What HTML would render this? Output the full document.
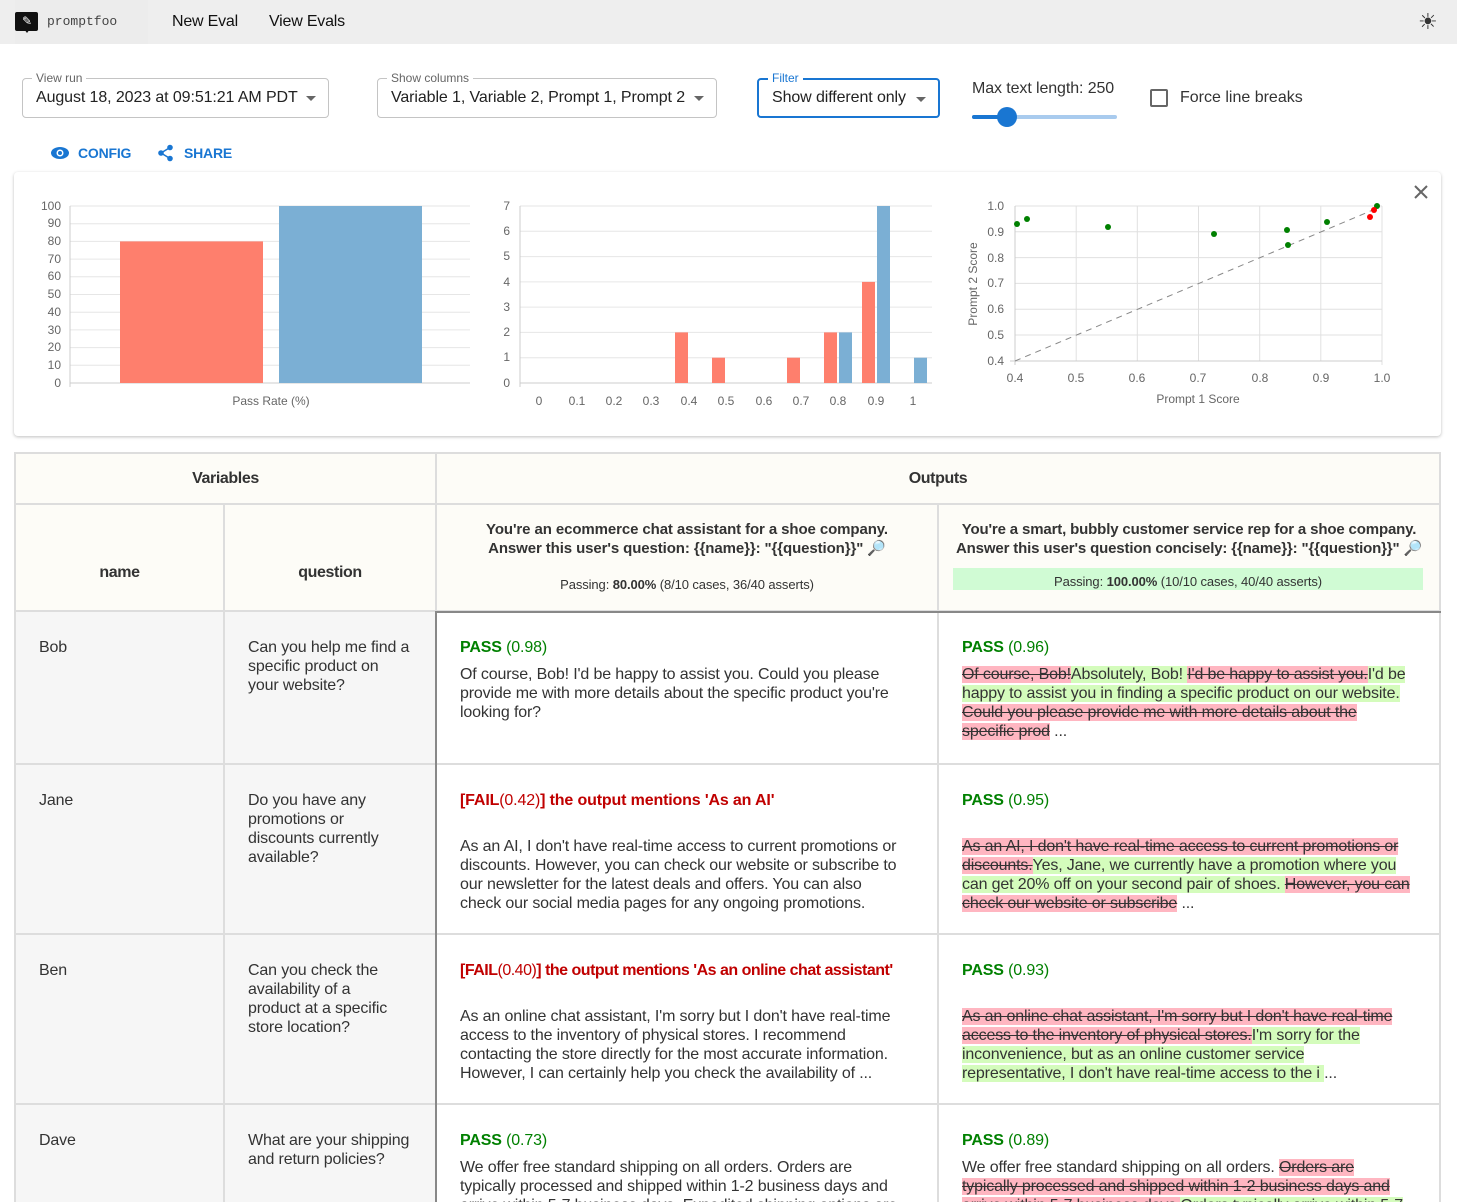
<!DOCTYPE html>
<html><head><meta charset="utf-8">
<style>
*{box-sizing:border-box;margin:0;padding:0}
html,body{width:1457px;height:1202px;overflow:hidden}
body{background:#fff;font-family:"Liberation Sans",Arial,sans-serif;color:#333;position:relative}
.a{position:absolute}
.top{left:0;top:0;width:1457px;height:44px;background:#eeeeee}
.fld{border:1px solid #c4c4c4;border-radius:4px;height:40px;font-size:16px;color:#222;padding:10px 0 0 13px;white-space:nowrap;letter-spacing:-0.1px}
.lbl{font-size:12px;color:#666;background:#fff;padding:0 4px;top:-8px;left:9px;position:absolute;line-height:14px;letter-spacing:0}
.arr{position:absolute;right:12px;top:17px;width:0;height:0;border-left:5px solid transparent;border-right:5px solid transparent;border-top:5px solid #666}
.c{position:absolute;border-right:2px solid #ddd;border-bottom:2px solid #ddd;overflow:hidden}
.h{background:#fdfcf7;font-weight:bold;font-size:16px;color:#333;text-align:center;white-space:nowrap;letter-spacing:-0.4px}
.v{background:#f6f6f6;font-size:16px;line-height:19px;padding:26px 23px;white-space:nowrap;letter-spacing:-0.15px}
.o{background:#fff;font-size:16px;line-height:19px;padding:26px 23px;white-space:nowrap;letter-spacing:-0.15px}
.pass{color:#008000}.fail{color:#c00000}
del{background:#ffb6c1;text-decoration:line-through}
ins{background:#d4fcbc;text-decoration:none}
</style></head><body>
<div class="a top"></div>
<div class="a" style="left:15px;top:0;width:133px;height:44px;background:#ececec"></div>
<div class="a" style="left:15px;top:12px;width:23px;height:19px;background:#111;border-radius:2px"></div>
<div class="a" style="left:24px;top:29px;width:0;height:0;border-left:3px solid transparent;border-right:3px solid transparent;border-top:4px solid #111"></div>
<div class="a" style="left:22px;top:14px;color:#fff;font-size:12px;line-height:14px">✎</div>
<div class="a" style="left:47px;top:14px;font-family:'Liberation Mono',monospace;font-size:13px;color:#444">promptfoo</div>
<div class="a" style="left:172px;top:13px;font-size:16px;color:#111;letter-spacing:-0.2px">New Eval</div>
<div class="a" style="left:269px;top:13px;font-size:16px;color:#111;letter-spacing:-0.2px">View Evals</div>
<div class="a" style="left:1418px;top:9px;font-size:22px;color:#333">☀</div>

<div class="a fld" style="left:22px;top:78px;width:307px"><span class="lbl">View run</span>August 18, 2023 at 09:51:21 AM PDT<span class="arr"></span></div>
<div class="a fld" style="left:377px;top:78px;width:340px"><span class="lbl">Show columns</span>Variable 1, Variable 2, Prompt 1, Prompt 2<span class="arr"></span></div>
<div class="a fld" style="left:757px;top:78px;width:183px;border:2px solid #1976d2;padding-left:13px;padding-top:9px"><span class="lbl" style="color:#1976d2;top:-9px">Filter</span>Show different only<span class="arr"></span></div>
<div class="a" style="left:972px;top:80px;font-size:16px;color:#333;letter-spacing:-0.1px">Max text length: 250</div>
<div class="a" style="left:972px;top:115px;width:145px;height:4px;background:#a9cbee;border-radius:2px"></div>
<div class="a" style="left:972px;top:115px;width:34px;height:4px;background:#1976d2;border-radius:2px"></div>
<div class="a" style="left:997px;top:107px;width:20px;height:20px;background:#1976d2;border-radius:50%"></div>
<div class="a" style="left:1150px;top:89px;width:18px;height:18px;border:2px solid #666;border-radius:2px"></div>
<div class="a" style="left:1180px;top:89px;font-size:16px;color:#333">Force line breaks</div>
<svg class="a" style="left:50px;top:145px" width="20" height="16"><ellipse cx="10" cy="8" rx="9" ry="6" fill="#1976d2"/><circle cx="10" cy="8" r="3.5" fill="#fff"/><circle cx="10" cy="8" r="2" fill="#1976d2"/></svg>
<div class="a" style="left:78px;top:145px;font-size:14px;color:#1976d2;font-weight:bold;letter-spacing:-0.2px">CONFIG</div>
<svg class="a" style="left:157px;top:144px" width="18" height="18"><circle cx="13" cy="3.5" r="2.8" fill="#1976d2"/><circle cx="4" cy="9" r="2.8" fill="#1976d2"/><circle cx="13" cy="14.5" r="2.8" fill="#1976d2"/><path d="M13 3.5L4 9L13 14.5" stroke="#1976d2" stroke-width="1.5" fill="none"/></svg>
<div class="a" style="left:184px;top:145px;font-size:14px;color:#1976d2;font-weight:bold;letter-spacing:-0.2px">SHARE</div>

<div class="a" style="left:14px;top:172px;width:1427px;height:264px;background:#fff;box-shadow:0 1px 3px rgba(0,0,0,.25);border-radius:4px"></div>
<svg class="a" style="left:0;top:0" width="1457" height="440" font-family="Liberation Sans,Arial,sans-serif" font-size="12" fill="#666">
<g stroke="#e6e6e6" stroke-width="1">
<line x1="70" x2="470" y1="206" y2="206"/><line x1="70" x2="470" y1="223.7" y2="223.7"/><line x1="70" x2="470" y1="241.4" y2="241.4"/><line x1="70" x2="470" y1="259.1" y2="259.1"/><line x1="70" x2="470" y1="276.8" y2="276.8"/><line x1="70" x2="470" y1="294.5" y2="294.5"/><line x1="70" x2="470" y1="312.2" y2="312.2"/><line x1="70" x2="470" y1="329.9" y2="329.9"/><line x1="70" x2="470" y1="347.6" y2="347.6"/><line x1="70" x2="470" y1="365.3" y2="365.3"/>
</g>
<line x1="70" x2="470" y1="383" y2="383" stroke="#ccc"/><line x1="70" x2="70" y1="206" y2="387" stroke="#ccc"/>
<g text-anchor="end"><text x="61" y="210">100</text><text x="61" y="227">90</text><text x="61" y="245">80</text><text x="61" y="263">70</text><text x="61" y="280">60</text><text x="61" y="298">50</text><text x="61" y="316">40</text><text x="61" y="334">30</text><text x="61" y="351">20</text><text x="61" y="369">10</text><text x="61" y="387">0</text></g>
<rect x="120" y="241.4" width="143" height="141.6" fill="#fe7f6d"/>
<rect x="279" y="206" width="143" height="177" fill="#7bafd4"/>
<text x="271" y="405" text-anchor="middle">Pass Rate (%)</text>

<g stroke="#e6e6e6">
<line x1="520" x2="932" y1="206" y2="206"/><line x1="520" x2="932" y1="231.3" y2="231.3"/><line x1="520" x2="932" y1="256.6" y2="256.6"/><line x1="520" x2="932" y1="281.9" y2="281.9"/><line x1="520" x2="932" y1="307.1" y2="307.1"/><line x1="520" x2="932" y1="332.4" y2="332.4"/><line x1="520" x2="932" y1="357.7" y2="357.7"/>
</g>
<line x1="520" x2="932" y1="383" y2="383" stroke="#ccc"/><line x1="520" x2="520" y1="206" y2="387" stroke="#ccc"/>
<g text-anchor="end"><text x="510" y="210">7</text><text x="510" y="235">6</text><text x="510" y="260">5</text><text x="510" y="286">4</text><text x="510" y="311">3</text><text x="510" y="336">2</text><text x="510" y="361">1</text><text x="510" y="387">0</text></g>
<g text-anchor="middle"><text x="539" y="405">0</text><text x="577" y="405">0.1</text><text x="614" y="405">0.2</text><text x="651" y="405">0.3</text><text x="689" y="405">0.4</text><text x="726" y="405">0.5</text><text x="764" y="405">0.6</text><text x="801" y="405">0.7</text><text x="838" y="405">0.8</text><text x="876" y="405">0.9</text><text x="913" y="405">1</text></g>
<g fill="#fe7f6d"><rect x="675" y="332.4" width="13" height="50.6"/><rect x="712" y="357.7" width="13" height="25.3"/><rect x="787" y="357.7" width="13" height="25.3"/><rect x="824" y="332.4" width="13" height="50.6"/><rect x="862" y="281.9" width="13" height="101.1"/></g>
<g fill="#7bafd4"><rect x="839" y="332.4" width="13" height="50.6"/><rect x="877" y="206" width="13" height="177"/><rect x="914" y="357.7" width="13" height="25.3"/></g>

<g stroke="#e0e0e0">
<line x1="1015" x2="1382" y1="206" y2="206"/><line x1="1015" x2="1382" y1="231.8" y2="231.8"/><line x1="1015" x2="1382" y1="257.6" y2="257.6"/><line x1="1015" x2="1382" y1="283.4" y2="283.4"/><line x1="1015" x2="1382" y1="309.2" y2="309.2"/><line x1="1015" x2="1382" y1="335" y2="335"/>
<line x1="1076.2" x2="1076.2" y1="206" y2="361"/><line x1="1137.3" x2="1137.3" y1="206" y2="361"/><line x1="1198.5" x2="1198.5" y1="206" y2="361"/><line x1="1259.7" x2="1259.7" y1="206" y2="361"/><line x1="1320.8" x2="1320.8" y1="206" y2="361"/><line x1="1382" x2="1382" y1="206" y2="365"/>
</g>
<line x1="1010" x2="1382" y1="361" y2="361" stroke="#ccc"/><line x1="1015" x2="1015" y1="206" y2="365" stroke="#ccc"/>
<line x1="1015" y1="361" x2="1380" y2="207" stroke="#888" stroke-dasharray="6,5"/>
<g text-anchor="end"><text x="1004" y="210">1.0</text><text x="1004" y="236">0.9</text><text x="1004" y="262">0.8</text><text x="1004" y="287">0.7</text><text x="1004" y="313">0.6</text><text x="1004" y="339">0.5</text><text x="1004" y="365">0.4</text></g>
<g text-anchor="middle"><text x="1015" y="382">0.4</text><text x="1076" y="382">0.5</text><text x="1137" y="382">0.6</text><text x="1198" y="382">0.7</text><text x="1260" y="382">0.8</text><text x="1321" y="382">0.9</text><text x="1382" y="382">1.0</text></g>
<text x="1198" y="403" text-anchor="middle">Prompt 1 Score</text>
<text transform="translate(977,284) rotate(-90)" text-anchor="middle">Prompt 2 Score</text>
<g fill="#008000"><circle cx="1017" cy="224" r="3"/><circle cx="1027" cy="219" r="3"/><circle cx="1108" cy="227" r="3"/><circle cx="1214" cy="234" r="3"/><circle cx="1287" cy="230" r="3"/><circle cx="1288" cy="245" r="3"/><circle cx="1327" cy="222" r="3"/><circle cx="1377" cy="206" r="3"/></g>
<g fill="#f00"><circle cx="1374" cy="210" r="3"/><circle cx="1370" cy="217" r="3"/></g>
<path d="M1415 186L1427 198M1427 186L1415 198" stroke="#666" stroke-width="2"/>
</svg>

<!-- table -->
<div class="a" style="left:14px;top:452px;width:1427px;height:750px;border-left:2px solid #ddd;border-top:2px solid #ddd"></div>
<div class="c h" style="left:16px;top:454px;width:421px;height:51px;padding-top:16px">Variables</div>
<div class="c h" style="left:437px;top:454px;width:1004px;height:51px;padding-top:16px">Outputs</div>
<div class="c h" style="left:16px;top:505px;width:209px;height:107px;padding-top:59px">name</div>
<div class="c h" style="left:225px;top:505px;width:212px;height:107px;padding-top:59px">question</div>
<div class="c h" style="left:437px;top:505px;width:502px;height:107px;padding-top:15px;line-height:19px;font-size:15px;letter-spacing:-0.1px">You're an ecommerce chat assistant for a shoe company.<br>Answer this user's question: {{name}}: "{{question}}" 🔎<div style="font-weight:normal;font-size:13px;margin-top:17px;letter-spacing:-0.1px">Passing: <b>80.00%</b> (8/10 cases, 36/40 asserts)</div></div>
<div class="c h" style="left:939px;top:505px;width:502px;height:107px;padding-top:15px;line-height:19px;font-size:15px;letter-spacing:-0.15px">You're a smart, bubbly customer service rep for a shoe company.<br>Answer this user's question concisely: {{name}}: "{{question}}" 🔎<div style="font-weight:normal;font-size:13px;margin:10px 16px 0 14px;background:#d0fbd4;height:22px;padding-top:4px;letter-spacing:-0.1px">Passing: <b>100.00%</b> (10/10 cases, 40/40 asserts)</div></div>

<div class="c v" style="left:16px;top:612px;width:209px;height:153px">Bob</div>
<div class="c v" style="left:225px;top:612px;width:212px;height:153px">Can you help me find a<br>specific product on<br>your website?</div>
<div class="c v" style="left:16px;top:765px;width:209px;height:170px">Jane</div>
<div class="c v" style="left:225px;top:765px;width:212px;height:170px">Do you have any<br>promotions or<br>discounts currently<br>available?</div>
<div class="c v" style="left:16px;top:935px;width:209px;height:170px">Ben</div>
<div class="c v" style="left:225px;top:935px;width:212px;height:170px">Can you check the<br>availability of a<br>product at a specific<br>store location?</div>
<div class="c v" style="left:16px;top:1105px;width:209px;height:120px">Dave</div>
<div class="c v" style="left:225px;top:1105px;width:212px;height:120px">What are your shipping<br>and return policies?</div>

<div class="c o" style="left:437px;top:612px;width:502px;height:153px"><div style="margin-bottom:8px"><b class="pass">PASS</b> <span class="pass">(0.98)</span></div>Of course, Bob! I'd be happy to assist you. Could you please<br>provide me with more details about the specific product you're<br>looking for?</div>
<div class="c o" style="left:939px;top:612px;width:502px;height:153px"><div style="margin-bottom:8px"><b class="pass">PASS</b> <span class="pass">(0.96)</span></div><del>Of course, Bob!</del><ins>Absolutely, Bob! </ins><del>I'd be happy to assist you.</del><ins>I'd be</ins><br><ins>happy to assist you in finding a specific product on our website.</ins><br><del>Could you please provide me with more details about the</del><br><del>specific prod</del> ...</div>
<div class="c o" style="left:437px;top:765px;width:502px;height:170px"><div style="margin-bottom:27px"><b class="fail">[FAIL</b><span class="fail">(0.42)</span><b class="fail">] the output mentions 'As an AI'</b></div>As an AI, I don't have real-time access to current promotions or<br>discounts. However, you can check our website or subscribe to<br>our newsletter for the latest deals and offers. You can also<br>check our social media pages for any ongoing promotions.</div>
<div class="c o" style="left:939px;top:765px;width:502px;height:170px"><div style="margin-bottom:27px"><b class="pass">PASS</b> <span class="pass">(0.95)</span></div><del>As an AI, I don't have real-time access to current promotions or</del><br><del>discounts.</del><ins>Yes, Jane, we currently have a promotion where you</ins><br><ins>can get 20% off on your second pair of shoes. </ins><del>However, you can</del><br><del>check our website or subscribe</del> ...</div>
<div class="c o" style="left:437px;top:935px;width:502px;height:170px"><div style="margin-bottom:27px;letter-spacing:-0.5px"><b class="fail">[FAIL</b><span class="fail">(0.40)</span><b class="fail">] the output mentions 'As an online chat assistant'</b></div>As an online chat assistant, I'm sorry but I don't have real-time<br>access to the inventory of physical stores. I recommend<br>contacting the store directly for the most accurate information.<br>However, I can certainly help you check the availability of ...</div>
<div class="c o" style="left:939px;top:935px;width:502px;height:170px"><div style="margin-bottom:27px"><b class="pass">PASS</b> <span class="pass">(0.93)</span></div><del>As an online chat assistant, I'm sorry but I don't have real-time</del><br><del>access to the inventory of physical stores.</del><ins>I'm sorry for the</ins><br><ins>inconvenience, but as an online customer service</ins><br><ins>representative, I don't have real-time access to the i </ins>...</div>
<div class="c o" style="left:437px;top:1105px;width:502px;height:120px"><div style="margin-bottom:8px"><b class="pass">PASS</b> <span class="pass">(0.73)</span></div>We offer free standard shipping on all orders. Orders are<br>typically processed and shipped within 1-2 business days and<br>arrive within 5-7 business days. Expedited shipping options are</div>
<div class="c o" style="left:939px;top:1105px;width:502px;height:120px"><div style="margin-bottom:8px"><b class="pass">PASS</b> <span class="pass">(0.89)</span></div>We offer free standard shipping on all orders. <del>Orders are</del><br><del>typically processed and shipped within 1-2 business days and</del><br><del>arrive within 5-7 business days.</del><ins>Orders typically arrive within 5-7</ins></div>
<div class="a" style="left:436px;top:611px;width:1005px;height:2px;background:#888"></div>
<div class="a" style="left:435px;top:611px;width:2px;height:591px;background:#888"></div>
</body></html>
